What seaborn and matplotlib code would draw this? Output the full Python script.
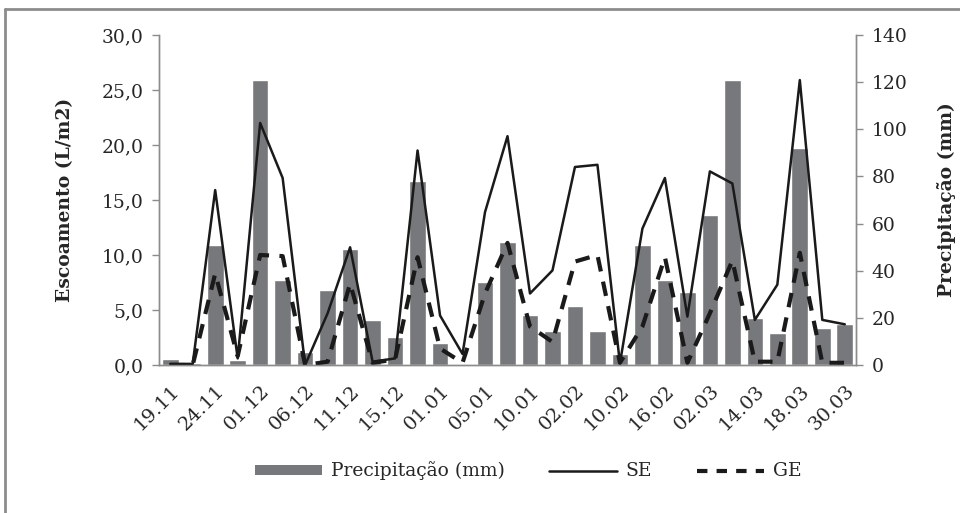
import numpy as np
import pandas as pd
import matplotlib
matplotlib.use("Agg")
import matplotlib.pyplot as plt
from matplotlib.lines import Line2D
from matplotlib.patches import Patch
from matplotlib.ticker import FuncFormatter
import seaborn as sns

# categories (only every other date is labelled in the source chart)
tick_labels = ["19.11", "24.11", "01.12", "06.12", "11.12", "15.12", "01.01", "05.01",
               "10.01", "02.02", "10.02", "16.02", "02.03", "14.03", "18.03", "30.03"]
n_cat = 31

precip = [2.5, 1.0, 51, 2, 121, 36, 5.7, 32, 49, 19, 12, 78, 9.2, 0.5, 35, 52,
          21, 14.6, 25, 14.6, 4.5, 51, 36, 31, 63.5, 121, 20, 13.4, 92, 15.6, 17.5]
se = [0.1, 0.1, 15.9, 0.6, 22.0, 17.0, 0.0, 4.7, 10.7, 0.3, 0.6, 19.5, 4.5, 1.0, 13.9, 20.8,
      6.5, 8.6, 18.0, 18.2, 0.15, 12.4, 17.0, 4.4, 17.6, 16.5, 4.1, 7.3, 25.9, 4.1, 3.7]
ge = [0.0, 0.0, 8.3, 0.8, 10.0, 9.9, 0.0, 0.3, 7.4, 0.2, 0.5, 9.8, 1.5, 0.2, 6.5, 11.1,
      3.5, 2.1, 9.4, 10.0, 0.2, 3.5, 9.8, 0.2, 4.7, 9.5, 0.3, 0.3, 10.2, 0.2, 0.2]

df = pd.DataFrame({"idx": np.arange(n_cat), "precip": precip, "SE": se, "GE": ge})

sns.set_style("white")
plt.rcParams["font.family"] = ["DejaVu Serif"]

bar_color = "#77787b"
line_color = "#1a1a1a"
spine_color = "#8c8c8c"
fs = 13.5

fig = plt.figure(figsize=(9.6, 5.13), dpi=100)
ax = fig.add_axes([0.1656, 0.2885, 0.7261, 0.6433])
ax2 = ax.twinx()

# bars on the right axis, drawn behind the lines
sns.barplot(data=df, x="idx", y="precip", ax=ax2, color=bar_color, width=0.74,
            saturation=1, errorbar=None)
sns.lineplot(data=df, x="idx", y="SE", ax=ax, color=line_color, linewidth=1.8)
sns.lineplot(data=df, x="idx", y="GE", ax=ax, color=line_color, linewidth=3.0,
             linestyle=(0, (3.5, 2.5)))
ax.set_zorder(ax2.get_zorder() + 1)
ax.patch.set_visible(False)

ax.set_xlim(-0.5, n_cat - 0.5)
ax2.set_xlim(-0.5, n_cat - 0.5)
ax.set_ylim(0, 30)
ax2.set_ylim(0, 140)
ax.set_yticks(np.arange(0, 31, 5))
ax2.set_yticks(np.arange(0, 141, 20))
ax.yaxis.set_major_formatter(FuncFormatter(lambda v, p: f"{v:.1f}".replace(".", ",")))

ax.set_xticks(np.arange(0, n_cat, 2))
ax.set_xticklabels(tick_labels, rotation=45, ha="right", rotation_mode="anchor")
ax.set_xticks(np.arange(-0.5, n_cat, 1), minor=True)
ax.tick_params(axis="x", which="major", length=0, pad=12, labelsize=fs + 0.5)
ax.tick_params(axis="x", which="minor", length=5, color=spine_color, width=1)
ax.tick_params(axis="y", length=5, color=spine_color, width=1, labelsize=fs, pad=6)
ax2.tick_params(axis="y", length=5, color=spine_color, width=1, labelsize=fs, pad=6)
ax2.tick_params(axis="x", length=0, labelbottom=False)

ax.set_xlabel("")
ax2.set_xlabel("")
ax.set_ylabel("Escoamento (L/m2)", fontsize=fs, fontweight="bold")
ax.yaxis.set_label_coords(-0.122, 0.5)
ax2.set_ylabel("Precipitação (mm)", fontsize=fs, fontweight="bold")
ax2.yaxis.set_label_coords(1.116, 0.5)

for a in (ax, ax2):
    a.spines["top"].set_visible(False)
    for s in ("left", "right", "bottom"):
        a.spines[s].set_color(spine_color)
        a.spines[s].set_linewidth(1)

handles = [
    Patch(facecolor=bar_color, edgecolor="none"),
    Line2D([], [], color=line_color, linewidth=1.8),
    Line2D([], [], color=line_color, linewidth=3.0, linestyle=(0, (2.5, 2.2))),
]
fig.legend(handles, ["Precipitação (mm)", "SE", "GE"], loc="center",
           bbox_to_anchor=(0.55, 0.082), ncol=3, frameon=False, fontsize=fs,
           handlelength=3.6, handleheight=0.45, columnspacing=2.4, handletextpad=0.45)

# outer frame (top and left edges visible in the source)
fig.add_artist(Line2D([0.0055, 0.0055], [0.0, 0.983], transform=fig.transFigure,
                      color="#8c8c8c", linewidth=2))
fig.add_artist(Line2D([0.0055, 1.0], [0.983, 0.983], transform=fig.transFigure,
                      color="#8c8c8c", linewidth=2))

fig.savefig("out.png", dpi=100)
